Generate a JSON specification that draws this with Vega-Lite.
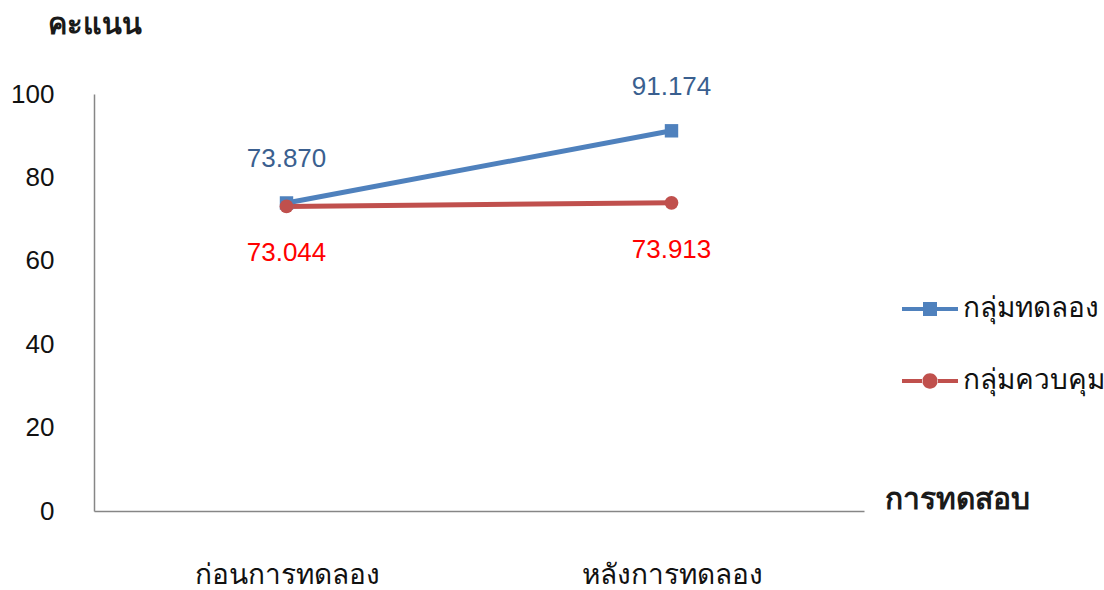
{
  "$schema": "https://vega.github.io/schema/vega-lite/v6.json",
  "autosize": "none",
  "width": 770,
  "height": 417,
  "padding": {"left": 94, "top": 94, "right": 240, "bottom": 79},
  "background": "white",
  "data": {"values": [
    {"phase": "ก่อนการทดลอง", "group": "กลุ่มทดลอง", "score": 73.870, "label": "73.870"},
    {"phase": "หลังการทดลอง", "group": "กลุ่มทดลอง", "score": 91.174, "label": "91.174"},
    {"phase": "ก่อนการทดลอง", "group": "กลุ่มควบคุม", "score": 73.044, "label": "73.044"},
    {"phase": "หลังการทดลอง", "group": "กลุ่มควบคุม", "score": 73.913, "label": "73.913"}
  ]},
  "config": {
    "view": {"stroke": null},
    "font": "Liberation Sans"
  },
  "encoding": {
    "x": {
      "field": "phase", "type": "nominal", "sort": ["ก่อนการทดลอง", "หลังการทดลอง"],
      "scale": {"type": "point", "padding": 0.5},
      "axis": {
        "title": "การทดสอบ", "titleFont": "Noto Sans", "titleFontSize": 30, "titleFontWeight": "bold", "titleColor": "#1a1a1a",
        "titleAngle": 0, "titleAlign": "left", "titleBaseline": "middle", "titleX": 790, "titleY": -12,
        "labelAngle": 0, "labelFont": "Noto Sans", "labelFontSize": 28, "labelColor": "#111111", "labelBaseline": "middle", "labelPadding": 64,
        "labelLimit": 0,
        "ticks": false, "grid": false, "domainColor": "#868686", "domainWidth": 1.5
      }
    },
    "y": {
      "field": "score", "type": "quantitative",
      "scale": {"domain": [0, 100]},
      "axis": {
        "values": [0, 20, 40, 60, 80, 100],
        "title": "คะแนน", "titleFont": "Noto Sans", "titleFontSize": 29, "titleFontWeight": "bold", "titleColor": "#1a1a1a",
        "titleAngle": 0, "titleAlign": "left", "titleBaseline": "middle", "titleX": -47, "titleY": -70,
        "labelFont": "Liberation Sans", "labelFontSize": 26, "labelColor": "#111111", "labelPadding": 40,
        "ticks": false, "grid": false, "domainColor": "#868686", "domainWidth": 1.5
      }
    },
    "color": {
      "field": "group", "type": "nominal",
      "scale": {"domain": ["กลุ่มทดลอง", "กลุ่มควบคุม"], "range": ["#4F81BD", "#C0504D"]},
      "legend": {
        "title": null, "orient": "none", "legendX": 822, "legendY": 201,
        "labelFont": "Noto Sans", "labelFontSize": 28, "labelColor": "#111111", "labelLimit": 0,
        "symbolSize": 196, "labelOffset": 19, "rowPadding": 44, "padding": 0,
        "symbolStrokeWidth": 0,
        "encode": {
          "symbols": {
            "update": {
              "shape": {"signal": "datum.value === 'กลุ่มทดลอง' ? 'M-4,-0.3H-0.9V0.3H-4Z M0.9,-0.3H4V0.3H0.9Z M-1,-1H1V1H-1Z' : 'M-4,-0.3H-1V0.3H-4Z M1,-0.3H4V0.3H1Z M-1.1,0A1.1,1.1 0 1,0 1.1,0A1.1,1.1 0 1,0 -1.1,0Z'"},
              "fill": {"signal": "datum.value === 'กลุ่มทดลอง' ? '#4F81BD' : '#C0504D'"},
              "fillOpacity": {"value": 1},
              "strokeWidth": {"value": 0}
            }
          }
        }
      }
    }
  },
  "layer": [
    {
      "mark": {"type": "line", "strokeWidth": 5}
    },
    {
      "transform": [{"filter": "datum.group === 'กลุ่มทดลอง'"}],
      "mark": {"type": "point", "filled": true, "opacity": 1, "shape": "square", "size": 180}
    },
    {
      "transform": [{"filter": "datum.group === 'กลุ่มควบคุม'"}],
      "mark": {"type": "point", "filled": true, "opacity": 1, "shape": "circle", "size": 190}
    },
    {
      "transform": [{"filter": "datum.group === 'กลุ่มทดลอง'"}],
      "mark": {"type": "text", "dy": -44, "fontSize": 26, "font": "Liberation Sans"},
      "encoding": {"text": {"field": "label"}, "color": {"value": "#3A5F8F"}}
    },
    {
      "transform": [{"filter": "datum.group === 'กลุ่มควบคุม'"}],
      "mark": {"type": "text", "dy": 47, "fontSize": 26, "font": "Liberation Sans"},
      "encoding": {"text": {"field": "label"}, "color": {"value": "#FF0000"}}
    }
  ]
}
